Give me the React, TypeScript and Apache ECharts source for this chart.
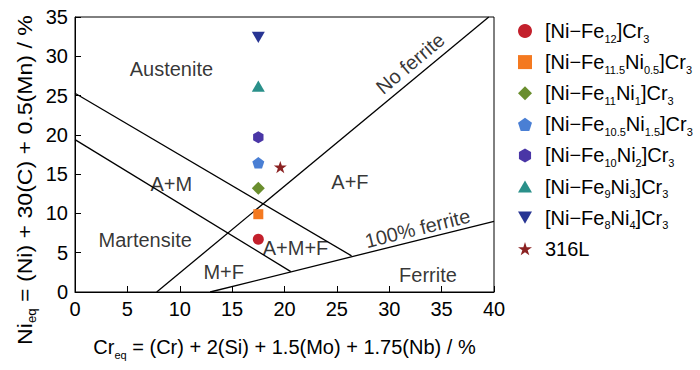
import React, { useEffect, useRef } from "react";
import * as echarts from "echarts";

const FONT = '"Liberation Sans", Arial, Helvetica, sans-serif';

// Data series (markers)
const seriesNames = [
  "[Ni−Fe12]Cr3",
  "[Ni−Fe11.5Ni0.5]Cr3",
  "[Ni−Fe11Ni1]Cr3",
  "[Ni−Fe10.5Ni1.5]Cr3",
  "[Ni−Fe10Ni2]Cr3",
  "[Ni−Fe9Ni3]Cr3",
  "[Ni−Fe8Ni4]Cr3",
  "316L",
];
const legendMarkup = [
  "[Ni−Fe_{12}]Cr_{3}",
  "[Ni−Fe_{11.5}Ni_{0.5}]Cr_{3}",
  "[Ni−Fe_{11}Ni_{1}]Cr_{3}",
  "[Ni−Fe_{10.5}Ni_{1.5}]Cr_{3}",
  "[Ni−Fe_{10}Ni_{2}]Cr_{3}",
  "[Ni−Fe_{9}Ni_{3}]Cr_{3}",
  "[Ni−Fe_{8}Ni_{4}]Cr_{3}",
  "316L",
];
const crEq = [17.5, 17.5, 17.5, 17.5, 17.5, 17.5, 17.5, 19.6];
const niEq = [6.7, 9.9, 13.2, 16.45, 19.7, 26.2, 32.4, 15.9];
const markerColors = ["#c3202c", "#f47920", "#6a8e2e", "#4a7fd4", "#4a36a6", "#2a908a", "#283593", "#8b2222"];
const markerSymbols = [
  "circle",
  "rect",
  "diamond",
  "path://M9.51,0 L19.02,6.91 L15.39,18.09 L3.63,18.09 L0,6.91 Z",
  "path://M8.66,0 L17.32,5 L17.32,15 L8.66,20 L0,15 L0,5 Z",
  "path://M10,0 L20,17.32 L0,17.32 Z",
  "path://M0,0 L20,0 L10,17.32 Z",
  "path://M9.51,0 L11.755,6.91 L19.02,6.91 L13.143,11.18 L15.39,18.09 L9.51,13.82 L3.63,18.09 L5.877,11.18 L0,6.91 L7.265,6.91 Z",
];
const markerSizes = [11, 10, 13, 12, 12, 13, 13, 13];

// Phase boundary lines
const boundaryNames = ["A/A+M", "M/A+M", "No ferrite line", "100% ferrite line"];
const boundaryX = [
  [0, 26.4],
  [0, 20.6],
  [7.8, 39.5],
  [12.9, 40],
];
const boundaryY = [
  [25.3, 4.6],
  [19.4, 2.6],
  [0, 35],
  [0, 9.0],
];

// Region labels
const regionLabels = ["Austenite", "A+M", "Martensite", "M+F", "A+M+F", "A+F", "Ferrite", "No ferrite", "100% ferrite"];
const regionX = [9.2, 9.2, 6.7, 14.2, 21.05, 26.25, 33.7, 32.0, 32.7];
const regionY = [28.4, 13.8, 6.6, 2.55, 5.56, 14.0, 2.16, 29.1, 8.1];
const regionRotate = [0, 0, 0, 0, 0, 0, 0, 40, 14];

// Axis ticks / titles
const xMin = 0, xMax = 40, xStep = 5;
const yMin = 0, yMax = 35, yStep = 5;
const xTitle = "Cr_{eq} = (Cr) + 2(Si) + 1.5(Mo) + 1.75(Nb) / %";
const yTitle = "Ni_{eq} = (Ni) + 30(C) + 0.5(Mn) / %";

function toRich(src: string): string {
  let out = "";
  const re = /_\{([^}]*)\}/g;
  let last = 0;
  let m: RegExpExecArray | null;
  while ((m = re.exec(src))) {
    if (m.index > last) out += "{n|" + src.slice(last, m.index) + "}";
    out += "{s|" + m[1] + "}";
    last = m.index + m[0].length;
  }
  if (last < src.length) out += "{n|" + src.slice(last) + "}";
  return out;
}

const richModel = {
  n: { fontSize: 20, fontFamily: FONT, color: "#000", verticalAlign: "middle" },
  s: { fontSize: 11, fontFamily: FONT, color: "#000", verticalAlign: "top", padding: [15, 0, 0, 0] },
  sp: { width: 8 },
};
const richZr = {
  n: { fontSize: 21, fontFamily: FONT, fill: "#000", verticalAlign: "middle" },
  s: { fontSize: 12, fontFamily: FONT, fill: "#000", verticalAlign: "top", padding: [14, 0, 0, 0] },
};

export default function App() {
  const ref = useRef<HTMLDivElement>(null);
  useEffect(() => {
    document.body.style.margin = "0";
    if (!ref.current) return;
    const chart = echarts.init(ref.current, undefined, { renderer: "svg" });

    const scatterSeries = seriesNames.map((name, i) => ({
      name,
      type: "scatter",
      data: [[crEq[i], niEq[i]]],
      symbol: markerSymbols[i],
      symbolSize: markerSizes[i],
      symbolKeepAspect: true,
      itemStyle: { color: markerColors[i], opacity: 1 },
      z: 5,
    }));

    const lineSeries = boundaryNames.map((name, i) => ({
      name,
      type: "line",
      data: [
        [boundaryX[i][0], boundaryY[i][0]],
        [boundaryX[i][1], boundaryY[i][1]],
      ],
      symbol: "none",
      lineStyle: { color: "#000", width: 1.3 },
      silent: true,
      z: 3,
    }));

    const labelSeries = {
      name: "regions",
      type: "scatter",
      symbolSize: 0,
      silent: true,
      z: 4,
      data: regionLabels.map((t, i) => ({
        value: [regionX[i], regionY[i]],
        label: { rotate: regionRotate[i] },
      })),
      label: {
        show: true,
        position: "inside",
        formatter: (p: any) => regionLabels[p.dataIndex],
        fontSize: 20,
        fontFamily: FONT,
        color: "#000",
      },
    };

    chart.setOption({
      animation: false,
      backgroundColor: "#fff",
      grid: { left: 75, right: 206, top: 17, bottom: 78, show: true, borderColor: "#000", borderWidth: 1, backgroundColor: "transparent" },
      xAxis: {
        type: "value",
        min: xMin,
        max: xMax,
        interval: xStep,
        name: toRich(xTitle),
        nameLocation: "middle",
        nameGap: 42,
        nameTextStyle: { fontSize: 20, fontFamily: FONT, color: "#000", rich: richModel },
        axisLine: { show: true, onZero: false, lineStyle: { color: "#000", width: 1 } },
        axisTick: { show: true, inside: true, length: 6, lineStyle: { color: "#000" } },
        axisLabel: { fontSize: 20, fontFamily: FONT, color: "#000", margin: 7 },
        splitLine: { show: false },
      },
      yAxis: {
        type: "value",
        min: yMin,
        max: yMax,
        interval: yStep,
        axisLine: { show: true, onZero: false, lineStyle: { color: "#000", width: 1 } },
        axisTick: { show: true, inside: true, length: 6, lineStyle: { color: "#000" } },
        axisLabel: { fontSize: 20, fontFamily: FONT, color: "#000", margin: 7 },
        splitLine: { show: false },
      },
      legend: {
        orient: "vertical",
        left: 518,
        top: 21,
        padding: 0,
        itemWidth: 14,
        itemHeight: 14,
        itemGap: 8.1,
        data: seriesNames,
        formatter: (name: string) => "{sp| }" + toRich(legendMarkup[seriesNames.indexOf(name)]),
        textStyle: { fontSize: 20, fontFamily: FONT, color: "#000", rich: richModel },
        selectedMode: false,
      },
      graphic: [
        {
          type: "text",
          x: 25,
          y: 180,
          rotation: Math.PI / 2,
          scaleX: 1.1,
          style: {
            text: toRich(yTitle),
            rich: richZr,
            fontSize: 21,
            fontFamily: FONT,
            fill: "#000",
            align: "center",
            verticalAlign: "middle",
          },
        },
      ],
      series: [...lineSeries, labelSeries, ...scatterSeries],
    });
    return () => chart.dispose();
  }, []);
  return <div ref={ref} style={{ width: 700, height: 370 }} />;
}
